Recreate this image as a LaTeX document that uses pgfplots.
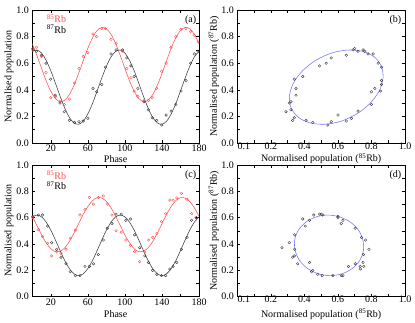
\documentclass[border=0pt]{standalone}
\usepackage{pgfplots}
\pgfplotsset{compat=1.18}
\usepackage{pgfplotstable}
\usepackage{fontspec}
\setmainfont{Liberation Serif}
\definecolor{rbred}{RGB}{255,80,80}
\definecolor{rbblk}{RGB}{60,60,60}
\definecolor{elblue}{RGB}{115,115,255}

% phase, 85Rb, 87Rb  (upper pair of panels)
\pgfplotstableread{
ph r b
0.5 0.70 0.71
4.7 0.72 0.69
10 0.65 0.66
14.8 0.53 0.60
19.9 0.34 0.48
24.8 0.35 0.36
29.9 0.31 0.30
34.6 0.29 0.235
40 0.33 0.17
45.4 0.45 0.155
50.4 0.56 0.16
55 0.65 0.165
60 0.68 0.185
65.5 0.82 0.41
69.5 0.80 0.385
75 0.86 0.44
79 0.86 0.57
85 0.78 0.67
90.5 0.75 0.70
97.5 0.69 0.70
102 0.56 0.64
106.5 0.49 0.58
110 0.39 0.50
114 0.35 0.41
120.5 0.32 0.31
125.3 0.32 0.25
129.5 0.34 0.19
134.3 0.41 0.17
139.7 0.54 0.135
144.5 0.60 0.21
149.8 0.72 0.24
155 0.80 0.29
160.6 0.855 0.39
166 0.86 0.47
171 0.84 0.60
175 0.81 0.67
179 0.76 0.69
}\dataA

% phase, 85Rb, 87Rb  (lower pair of panels)
\pgfplotstableread{
ph r b
0.5 0.60 0.61
6.5 0.51 0.62
11 0.456 0.62
16.6 0.405 0.536
20.9 0.31 0.41
26.3 0.342 0.36
31 0.33 0.30
36.4 0.36 0.25
41 0.443 0.19
46.5 0.506 0.16
51.5 0.62 0.16
56.9 0.663 0.23
61.6 0.754 0.23
66 0.703 0.25
71.3 0.752 0.32
76.7 0.765 0.43
81 0.703 0.52
86 0.62 0.556
90.4 0.50 0.627
96 0.49 0.627
101 0.43 0.58
106 0.39 0.59
110.5 0.342 0.47
116 0.266 0.372
121.5 0.34 0.31
125.5 0.43 0.26
130 0.45 0.20
134.5 0.48 0.17
139.5 0.57 0.16
144 0.63 0.16
148.5 0.734 0.21
152 0.733 0.23
156 0.75 0.26
161 0.785 0.36
167 0.74 0.45
172 0.63 0.58
177 0.60 0.60
}\dataC

% fitted curves
\pgfplotstableread{
ph r b
0 0.747 0.689
5 0.658 0.699
10 0.561 0.676
15 0.467 0.621
20 0.389 0.543
25 0.334 0.449
30 0.311 0.352
35 0.321 0.263
40 0.364 0.193
45 0.434 0.151
50 0.522 0.141
55 0.619 0.164
60 0.713 0.219
65 0.791 0.297
70 0.846 0.391
75 0.869 0.488
80 0.859 0.577
85 0.817 0.647
90 0.747 0.689
95 0.658 0.699
100 0.561 0.676
105 0.467 0.621
110 0.389 0.543
115 0.334 0.449
120 0.311 0.352
125 0.321 0.263
130 0.364 0.193
135 0.434 0.151
140 0.522 0.141
145 0.619 0.164
150 0.713 0.219
155 0.791 0.297
160 0.846 0.391
165 0.869 0.488
170 0.859 0.577
175 0.817 0.647
180 0.747 0.689
}\fitA

\pgfplotstableread{
ph r b
0 0.611 0.606
5 0.540 0.620
10 0.469 0.606
15 0.409 0.566
20 0.364 0.505
25 0.342 0.430
30 0.345 0.350
35 0.371 0.275
40 0.419 0.214
45 0.483 0.174
50 0.554 0.160
55 0.625 0.174
60 0.685 0.214
65 0.730 0.275
70 0.752 0.350
75 0.749 0.430
80 0.723 0.505
85 0.675 0.566
90 0.611 0.606
95 0.540 0.620
100 0.469 0.606
105 0.409 0.566
110 0.364 0.505
115 0.342 0.430
120 0.345 0.350
125 0.371 0.275
130 0.419 0.214
135 0.483 0.174
140 0.554 0.160
145 0.625 0.174
150 0.685 0.214
155 0.730 0.275
160 0.752 0.350
165 0.749 0.430
170 0.723 0.505
175 0.675 0.566
180 0.611 0.606
}\fitC

\tikzset{lab/.style={font=\fontsize{10}{12}\selectfont, inner sep=1pt}}

\pgfplotsset{
  panel/.style={
    scale only axis, anchor=south west,
    /pgf/number format/assume math mode=true,
    tick align=inside, major tick length=2.6pt, minor tick length=2.6pt,
    axis line style={line width=0.5pt},
    every tick/.style={black, line width=0.45pt},
    ymin=0, ymax=1, ytick={0,0.2,0.4,0.6,0.8,1},
    yticklabels={0.0,0.2,0.4,0.6,0.8,1.0},
    minor ytick={0.1,0.3,0.5,0.7,0.9},
    tick label style={font=\fontsize{10}{12}\selectfont},
    label style={font=\fontsize{10}{12}\selectfont},
    ylabel style={at={(axis description cs:-0.14,0.5)}, anchor=center},
    xticklabel style={yshift=1.5pt},
  },
  phase/.style={xmin=0, xmax=180, xtick={20,40,...,180},
    xticklabels={20,,60,,100,,140,,180}, xlabel={Phase},
    ylabel={Normalised population}},
  pop/.style={xmin=0, xmax=1, xtick={0.2,0.4,0.6,0.8,1},
    xticklabels={0.2,0.4,0.6,0.8,1.0}, minor xtick={0.1,0.3,0.5,0.7,0.9},
    extra x ticks={0}, extra x tick labels={0.1},
    extra x tick style={xticklabel style={xshift=6.5pt}},
    xticklabel style={yshift=2.5pt},
    xlabel={Normalised population (\textsuperscript{85}Rb)},
    ylabel={Normalised population (\textsuperscript{87}Rb)}},
  redpts/.style={only marks, mark=o, mark size=1.3pt, color=rbred, mark options={line width=0.4pt}},
  blkpts/.style={only marks, mark=o, mark size=1.3pt, color=rbblk, mark options={line width=0.4pt}},
}

\begin{document}
\begin{tikzpicture}
\useasboundingbox (0,0) rectangle (415pt,322pt);

% (a)
\begin{axis}[panel, phase, at={(32.3pt,179pt)}, width=166.7pt, height=133pt,
  xlabel style={at={(axis description cs:0.5,-0.118)}, anchor=center}]
\addplot[rbred, line width=0.55pt, smooth] table[x=ph, y=r] {\fitA};
\addplot[rbblk, line width=0.55pt, smooth] table[x=ph, y=b] {\fitA};
\addplot[redpts] table[x=ph, y=r] {\dataA};
\addplot[blkpts] table[x=ph, y=b] {\dataA};
\node[lab, anchor=west, text=rbred] at (rel axis cs:0.08,0.935) {\textsuperscript{85}Rb};
\node[lab, anchor=west, text=black] at (rel axis cs:0.08,0.855) {\textsuperscript{87}Rb};
\node[lab, anchor=east] at (rel axis cs:0.99,0.925) {(a)};
\end{axis}

% (b)
\begin{axis}[panel, pop, at={(237.3pt,179pt)}, width=167.7pt, height=133pt,
  xlabel style={at={(axis description cs:0.5,-0.118)}, anchor=center}]
\addplot[elblue, line width=0.55pt, smooth cycle] coordinates {
(0.747,0.689) (0.658,0.699) (0.561,0.676) (0.467,0.621) (0.389,0.543) (0.334,0.449)
(0.311,0.352) (0.321,0.263) (0.364,0.193) (0.434,0.151) (0.522,0.141) (0.619,0.164)
(0.713,0.219) (0.791,0.297) (0.846,0.391) (0.869,0.488) (0.859,0.577) (0.817,0.647)};
\addplot[blkpts] table[x=r, y=b] {\dataA};
\node[lab, anchor=east] at (rel axis cs:0.985,0.925) {(b)};
\end{axis}

% (c)
\begin{axis}[panel, phase, at={(32.3pt,25.3pt)}, width=166.7pt, height=131.7pt,
  xlabel style={at={(axis description cs:0.5,-0.131)}, anchor=center}]
\addplot[rbred, line width=0.55pt, smooth] table[x=ph, y=r] {\fitC};
\addplot[rbblk, line width=0.55pt, smooth] table[x=ph, y=b] {\fitC};
\addplot[redpts] table[x=ph, y=r] {\dataC};
\addplot[blkpts] table[x=ph, y=b] {\dataC};
\node[lab, anchor=west, text=rbred] at (rel axis cs:0.08,0.922) {\textsuperscript{85}Rb};
\node[lab, anchor=west, text=black] at (rel axis cs:0.08,0.842) {\textsuperscript{87}Rb};
\node[lab, anchor=east] at (rel axis cs:0.99,0.92) {(c)};
\end{axis}

% (d)
\begin{axis}[panel, pop, at={(237.3pt,25.3pt)}, width=167.7pt, height=131.7pt,
  xlabel style={at={(axis description cs:0.5,-0.131)}, anchor=center}]
\addplot[elblue, line width=0.55pt, smooth cycle] coordinates {
(0.611,0.606) (0.540,0.620) (0.469,0.606) (0.409,0.566) (0.364,0.505) (0.342,0.430)
(0.345,0.350) (0.371,0.275) (0.419,0.214) (0.483,0.174) (0.554,0.160) (0.625,0.174)
(0.685,0.214) (0.730,0.275) (0.752,0.350) (0.749,0.430) (0.723,0.505) (0.675,0.566)};
\addplot[blkpts] table[x=r, y=b] {\dataC};
\node[lab, anchor=east] at (rel axis cs:0.985,0.92) {(d)};
\end{axis}
\end{tikzpicture}
\end{document}
